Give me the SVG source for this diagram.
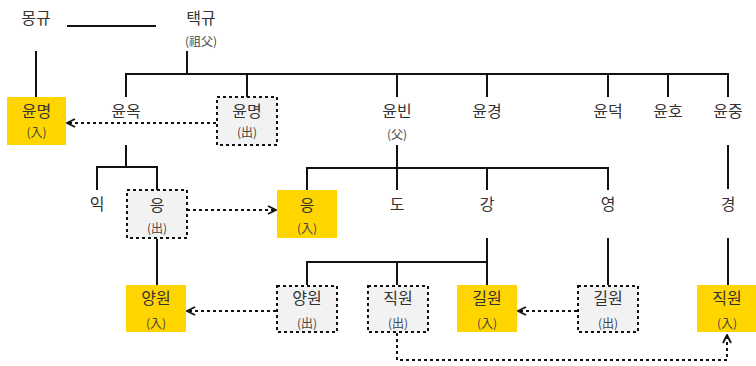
<svg xmlns="http://www.w3.org/2000/svg" width="756" height="366" viewBox="0 0 756 366">
  <defs>
    <style>
      .name { font-family: "Noto Sans CJK KR", "Noto Sans", sans-serif; font-size: 16px; fill: #333; text-anchor: middle; }
      .note { font-family: "Noto Sans CJK KR", "Noto Sans", sans-serif; font-size: 12px; fill: #444; text-anchor: middle; }
      .line { fill: none; stroke: #111; stroke-width: 2; }
      .dots { fill: none; stroke: #111; stroke-width: 2; stroke-dasharray: 3 3; }
      .in { fill: #FFD500; }
      .out { fill: #F2F2F2; stroke: #111; stroke-width: 2; stroke-dasharray: 3 3; }
    </style>
    <marker id="chev" viewBox="0 0 10 10" refX="9" refY="5" markerWidth="10" markerHeight="10" markerUnits="userSpaceOnUse" orient="auto">
      <path d="M1,1 L9,5 L1,9" fill="none" stroke="#111" stroke-width="1.8"/>
    </marker>
  </defs>

  <!-- connectors -->
  <g id="connectors">
    <!-- marriage line and trunk lines -->
    <path class="line" d="M67,26 H156"/>
    <path class="line" d="M36,51 V97"/>
    <path class="line" d="M187,51 V74"/>
    <path class="line" d="M126,97 V74 H728 V97"/>
    <path class="line" d="M247,74 V97 M397,74 V97 M487,74 V97 M608,74 V97 M668,74 V97"/>
    <!-- 윤옥 branch -->
    <path class="line" d="M126,145 V167"/>
    <path class="line" d="M97,190 V167 H157 V190"/>
    <path class="line" d="M157,239 V285"/>
    <!-- 윤빈 branch -->
    <path class="line" d="M397,145 V190"/>
    <path class="line" d="M307,190 V168 H608 V190"/>
    <path class="line" d="M487,168 V190"/>
    <path class="line" d="M487,238 V285"/>
    <path class="line" d="M307,285 V262 H487"/>
    <path class="line" d="M397,262 V285"/>
    <path class="line" d="M608,238 V285"/>
    <!-- 윤중 branch -->
    <path class="line" d="M728,145 V189"/>
    <path class="line" d="M728,238 V285"/>
    <!-- adoption arrows -->
    <path class="dots" d="M216,123 H67" marker-end="url(#chev)"/>
    <path class="dots" d="M187,210 H276" marker-end="url(#chev)"/>
    <path class="dots" d="M276,311 H187" marker-end="url(#chev)"/>
    <path class="dots" d="M577,311 H518" marker-end="url(#chev)"/>
    <path class="dots" d="M397,333 V360 H727 V335" marker-end="url(#chev)"/>
  </g>

  <!-- people -->
  <g id="n-mongyu"><text class="name" x="36" y="24">몽규</text></g>
  <g id="n-taekgyu">
    <text class="name" x="201" y="24">택규</text>
    <text class="note" x="201" y="46">(祖父)</text>
  </g>
  <g id="n-yunmyeong-in">
    <rect class="in" x="7" y="97" width="59" height="48"/>
    <text class="name" x="36.5" y="117">윤명</text>
    <text class="note" x="36.5" y="137">(入)</text>
  </g>
  <g id="n-yunok"><text class="name" x="126" y="117">윤옥</text></g>
  <g id="n-yunmyeong-out">
    <rect class="out" x="217" y="97" width="60" height="48"/>
    <text class="name" x="247" y="117">윤명</text>
    <text class="note" x="247" y="137">(出)</text>
  </g>
  <g id="n-yunbin">
    <text class="name" x="397" y="117">윤빈</text>
    <text class="note" x="397" y="139">(父)</text>
  </g>
  <g id="n-yungyeong"><text class="name" x="487" y="117">윤경</text></g>
  <g id="n-yundeok"><text class="name" x="608" y="117">윤덕</text></g>
  <g id="n-yunho"><text class="name" x="668" y="117">윤호</text></g>
  <g id="n-yunjung"><text class="name" x="728" y="117">윤중</text></g>

  <g id="n-ik"><text class="name" x="97" y="210">익</text></g>
  <g id="n-eung-out">
    <rect class="out" x="127" y="190" width="60" height="48"/>
    <text class="name" x="157" y="211">응</text>
    <text class="note" x="157" y="233">(出)</text>
  </g>
  <g id="n-eung-in">
    <rect class="in" x="277" y="190" width="60" height="48"/>
    <text class="name" x="307" y="211">응</text>
    <text class="note" x="307" y="233">(入)</text>
  </g>
  <g id="n-do"><text class="name" x="397" y="210">도</text></g>
  <g id="n-gang"><text class="name" x="487" y="210">강</text></g>
  <g id="n-yeong"><text class="name" x="608" y="210">영</text></g>
  <g id="n-gyeong"><text class="name" x="728" y="210">경</text></g>

  <g id="n-yangwon-in">
    <rect class="in" x="126" y="285" width="60" height="47"/>
    <text class="name" x="156" y="304">양원</text>
    <text class="note" x="156" y="328">(入)</text>
  </g>
  <g id="n-yangwon-out">
    <rect class="out" x="277" y="286" width="60" height="46"/>
    <text class="name" x="307" y="304">양원</text>
    <text class="note" x="307" y="328">(出)</text>
  </g>
  <g id="n-jigwon-out">
    <rect class="out" x="368" y="286" width="60" height="46"/>
    <text class="name" x="398" y="304">직원</text>
    <text class="note" x="398" y="328">(出)</text>
  </g>
  <g id="n-gilwon-in">
    <rect class="in" x="457" y="285" width="60" height="47"/>
    <text class="name" x="487" y="304">길원</text>
    <text class="note" x="487" y="328">(入)</text>
  </g>
  <g id="n-gilwon-out">
    <rect class="out" x="578" y="286" width="60" height="46"/>
    <text class="name" x="608" y="304">길원</text>
    <text class="note" x="608" y="328">(出)</text>
  </g>
  <g id="n-jigwon-in">
    <rect class="in" x="697" y="285" width="60" height="47"/>
    <text class="name" x="727" y="304">직원</text>
    <text class="note" x="727" y="328">(入)</text>
  </g>
</svg>
